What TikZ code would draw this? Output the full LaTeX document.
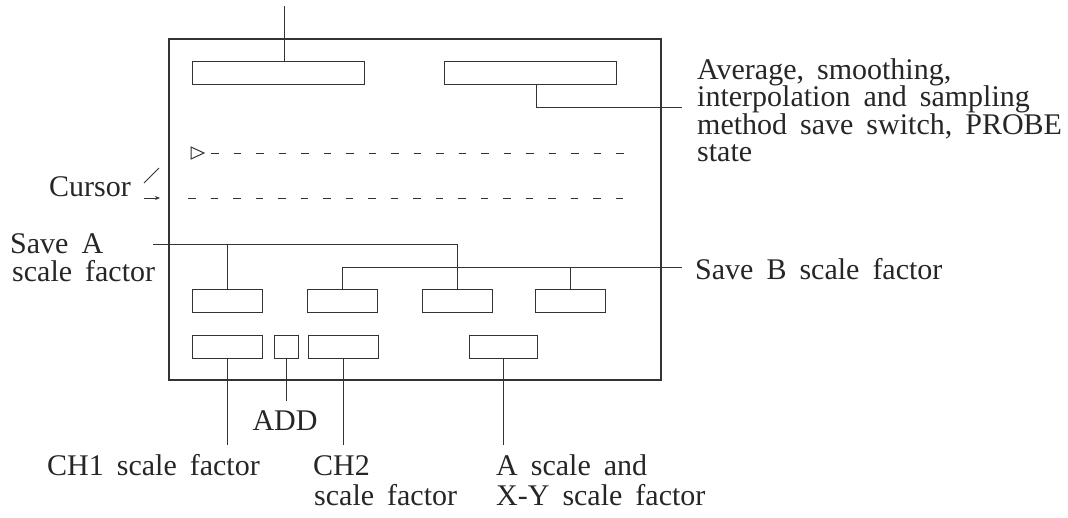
\documentclass[tikz,border=0pt]{standalone}
\usepackage{fontspec}
\setmainfont{Liberation Serif}
\usetikzlibrary{arrows.meta}
\protected\def\lblfont{\fontsize{30}{30}\selectfont\spaceskip=13pt plus 2pt minus 2pt\relax}
\begin{document}
\begin{tikzpicture}[x=1pt,y=-1pt,
  ink/.style={draw=black!80, line width=1pt},
  panel/.style={ink, line width=1.2pt, inner sep=0pt},
  key/.style={ink, inner sep=0pt, minimum height=23pt, minimum width=70pt},
  lbl/.style={inner sep=0pt, text=black!85, font=\lblfont},
  trace/.style={ink, dash pattern=on 7.5pt off 15pt}]
\useasboundingbox (0,0) rectangle (1068,517);

% screen outline
\node[panel, minimum width=492pt, minimum height=341pt] (scr) at (415,209.5) {};

% top row of readouts
\node[key, minimum width=172pt] (t1) at (278,72.5) {};
\node[key, minimum width=172pt] (t2) at (530,72.5) {};

% middle row of scale-factor fields
\node[key] (r11) at (227.5,300.5) {};
\node[key] (r12) at (342.5,300.5) {};
\node[key] (r13) at (457.5,300.5) {};
\node[key] (r14) at (570.5,300.5) {};

% bottom row
\node[key] (r21) at (227.5,346.5) {};
\node[key, minimum width=24pt] (add) at (286,346.5) {};
\node[key] (r22) at (343,346.5) {};
\node[key, minimum width=68pt] (r23) at (503,346.5) {};

% cursor traces
\draw[ink] (191,147) -- (204,153) -- (191,159) -- cycle;
\coordinate (c1a) at (211,153);
\coordinate (c1b) at (632,153);
\coordinate (c2a) at (188,198);
\coordinate (c2b) at (632,198);
\draw[trace] (c1a) -- (c1b);
\draw[trace] (c2a) -- (c2b);

% labels
\node[lbl, anchor=base west] (avg1) at (697,79) {Average, smoothing,};
\node[lbl, anchor=base west] (avg2) at (697,106.5) {interpolation and sampling};
\node[lbl, anchor=base west] (avg3) at (697,134) {method save switch, PROBE};
\node[lbl, anchor=base west] (avg4) at (697,161.5) {state};

\node[lbl, anchor=base west] (cur) at (49,196) {Cursor};
\node[lbl, anchor=base west] (sa1) at (10,253) {Save A};
\node[lbl, anchor=base west] (sa2) at (12,281) {scale factor};
\node[lbl, anchor=west] (sb) at (695,269) {Save B scale factor};

\node[lbl, anchor=base] (addl) at (285,430) {ADD};
\node[lbl, anchor=base west] (ch1) at (47,475) {CH1 scale factor};
\node[lbl, anchor=base west] (ch2a) at (313,475) {CH2};
\node[lbl, anchor=base west] (ch2b) at (314,505) {scale factor};
\node[lbl, anchor=base west] (xya) at (496,475) {A scale and};
\node[lbl, anchor=base west] (xyb) at (496,505) {X-Y scale factor};

% leader lines
\coordinate (topend) at (284,6);
\draw[ink] (topend) -- (topend |- t1.north);

\coordinate (avgend) at (682,107);
\coordinate (avgknee) at (536,107);
\draw[ink] (avgknee |- t2.south) -- (avgknee) -- (avgend);

\coordinate (cslash) at (159,168);
\coordinate (cslash0) at (144,183);
\draw[ink] (cslash0) -- (cslash);
\coordinate (carr0) at (144,198);
\coordinate (carr) at (160,198);
\draw[ink, -{Stealth[length=5pt,width=4pt]}] (carr0) -- (carr);

\coordinate (saend) at (153,244);
\draw[ink] (saend) -- (saend -| r13.north) -- (r13.north);
\draw[ink] (saend -| r11.north) -- (r11.north);

\coordinate (sbend) at (682,267);
\draw[ink] (sbend) -- (sbend -| r12.north) -- (r12.north);
\draw[ink] (sbend -| r14.north) -- (r14.north);

\coordinate (ch1end) at (227.5,445);
\draw[ink] (r21.south) -- (ch1end);
\coordinate (addend) at (286,401);
\draw[ink] (add.south) -- (addend);
\coordinate (ch2end) at (343,445);
\draw[ink] (r22.south) -- (ch2end);
\coordinate (xyend) at (503,445);
\draw[ink] (r23.south) -- (xyend);
\end{tikzpicture}
\end{document}
